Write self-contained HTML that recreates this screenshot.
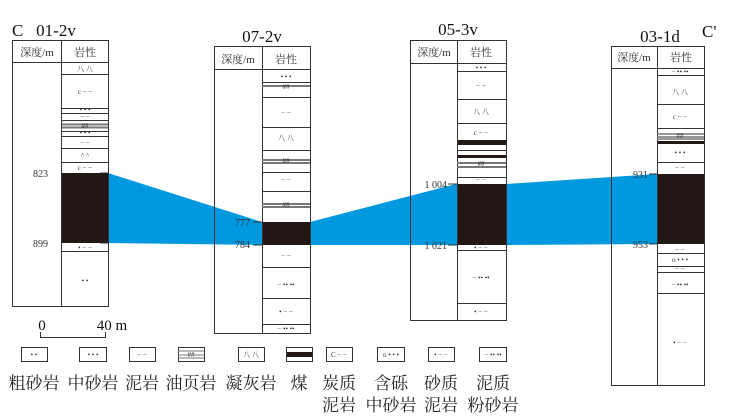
<!DOCTYPE html>
<html><head><meta charset="utf-8"><style>
html,body{margin:0;padding:0;background:#fff;width:730px;height:419px;overflow:hidden}
svg text{font-family:"Liberation Serif","Noto Serif CJK SC",serif}
.s{font-size:7px;fill:#333;text-anchor:middle;font-family:"Liberation Sans",sans-serif}
.h{font-size:11px;fill:#333;text-anchor:middle;font-family:"Liberation Serif","Noto Serif CJK SC",serif}
.d{font-size:10px;fill:#333;text-anchor:end}
.t{font-size:17px;fill:#111;text-anchor:middle}
.lg{font-size:17px;fill:#222;text-anchor:middle;font-family:"Noto Serif CJK SC",serif}
</style></head><body>
<svg width="730" height="419" viewBox="0 0 730 419" xmlns="http://www.w3.org/2000/svg">
<polygon fill="#0099e0" points="108,173 262,222 310,222 456,184 506,184 657,174 657,244 506,245 456,245 310,245 262,245 108,243"/>
<g fill="#fff"><rect x="62" y="63" width="46" height="110"/><rect x="62" y="243" width="46" height="63"/>
<rect x="262" y="69" width="48" height="153"/><rect x="262" y="245" width="48" height="88"/>
<rect x="457" y="63" width="49" height="121"/><rect x="457" y="245" width="49" height="75"/>
<rect x="657" y="68" width="47" height="106"/><rect x="657" y="244" width="47" height="141"/></g>
<g fill="#231815"><rect x="62" y="173" width="46" height="70"/><rect x="262" y="222" width="48" height="23"/>
<rect x="457" y="184" width="49" height="61"/><rect x="457" y="140" width="49" height="5"/><rect x="457" y="155" width="49" height="3"/>
<rect x="657" y="174" width="47" height="70"/><rect x="657" y="141" width="47" height="3"/></g>
<g stroke="#333" stroke-width="1" fill="none">
<rect x="12.5" y="40.5" width="96" height="266"/><line x1="61.5" y1="40" x2="61.5" y2="306"/><line x1="12" y1="62.5" x2="108" y2="62.5"/>
<path d="M62 74.5H108M62 108.5H108M62 113.5H108M62 120.5H108M62 131.5H108M62 136.5H108M62 148.5H108M62 162.5H108M62 251.5H108"/>
<path d="M62 124.5H108M62 127.5H108" stroke="#777" stroke-width="2"/>
<rect x="214.5" y="46.5" width="96" height="287"/><line x1="262.5" y1="46" x2="262.5" y2="333"/><line x1="214" y1="69.5" x2="310" y2="69.5"/>
<path d="M262 82.5H310M262 97.5H310M262 127.5H310M262 150.5H310M262 172.5H310M262 191.5H310M262 267.5H310M262 298.5H310M262 324.5H310"/>
<path d="M262 86H310M262 160H310M262 163H310M262 204H310M262 207H310" stroke="#777" stroke-width="2"/>
<rect x="410.5" y="40.5" width="96" height="280"/><line x1="457.5" y1="40" x2="457.5" y2="320"/><line x1="410" y1="63.5" x2="506" y2="63.5"/>
<path d="M457 71.5H506M457 99.5H506M457 123.5H506M457 150.5H506M457 177.5H506M457 250.5H506M457 303.5H506"/>
<path d="M457 163H506M457 167H506" stroke="#777" stroke-width="2"/>
<rect x="611.5" y="46.5" width="93" height="339"/><line x1="657.5" y1="46" x2="657.5" y2="385"/><line x1="611" y1="68.5" x2="704" y2="68.5"/>
<path d="M657 75.5H704M657 104.5H704M657 128.5H704M657 162.5H704M657 253.5H704M657 266.5H704M657 272.5H704M657 293.5H704"/>
<path d="M657 134H704M657 137H704M657 139H704" stroke="#777" stroke-width="1.5"/>
<path d="M100 173H108M100 243H108M253 222H262M253 245H262M448 184H457M448 245H457M649 174H657M649 244H657"/>
<path d="M40.5 332V337.5H105.5V332"/>
<rect x="21.5" y="347.5" width="26" height="14"/><rect x="79.5" y="347.5" width="27" height="14"/><rect x="129.5" y="347.5" width="26" height="14"/>
<rect x="178.5" y="347.5" width="26" height="14"/><rect x="238.5" y="347.5" width="26" height="14"/><rect x="286.5" y="347.5" width="26" height="14"/>
<rect x="326.5" y="347.5" width="26" height="14"/><rect x="377.5" y="347.5" width="27" height="14"/><rect x="428.5" y="347.5" width="26" height="14"/><rect x="479.5" y="347.5" width="27" height="14"/>
<path d="M178 351H204M178 355H204M178 358H204" stroke="#777"/>
</g>
<rect x="287" y="352" width="25" height="5" fill="#231815"/>
<g class="s">
<text x="85" y="71">八 八</text><text x="85" y="94">c − −</text><text x="85" y="112">• • •</text><text x="85" y="119">− −</text><text x="85" y="128">##</text><text x="85" y="135">• • •</text><text x="85" y="145">− −</text><text x="85" y="158">^ ^</text><text x="85" y="170">c − −</text><text x="85" y="250">• − −</text><text x="85" y="283">•   •</text>
<text x="286" y="79">• • •</text><text x="286" y="89">##</text><text x="286" y="115">− −</text><text x="286" y="140">八 八</text><text x="286" y="163">##</text><text x="286" y="182">− −</text><text x="286" y="207">##</text><text x="286" y="258">− −</text><text x="286" y="287">− •• ••</text><text x="286" y="314">• − −</text><text x="286" y="331">− •• ••</text>
<text x="481" y="70">• • •</text><text x="481" y="88">− −</text><text x="481" y="114">八 八</text><text x="481" y="135">c − −</text><text x="481" y="153">− −</text><text x="481" y="166">##</text><text x="481" y="182">− −</text><text x="481" y="250">• − −</text><text x="481" y="280">− •• ••</text><text x="481" y="314">• − −</text>
<text x="680" y="74">− •• ••</text><text x="680" y="94">八 八</text><text x="680" y="119">c − −</text><text x="680" y="138">##</text><text x="680" y="155">• • •</text><text x="680" y="170">− −</text><text x="680" y="252">− −</text><text x="680" y="262">o • • •</text><text x="680" y="271">− −</text><text x="680" y="287">− •• ••</text><text x="680" y="345">• − −</text>
<text x="34" y="357">•   •</text><text x="93" y="357">• • •</text><text x="142" y="357">− −</text><text x="191" y="357">##</text><text x="251" y="357">八 八</text><text x="339" y="357">C − −</text><text x="391" y="357">o • • •</text><text x="441" y="357">• − −</text><text x="493" y="357">− •• ••</text>
</g>
<g class="h"><text x="37" y="56">深度/m</text><text x="85" y="56">岩性</text><text x="238" y="63">深度/m</text><text x="286" y="63">岩性</text>
<text x="434" y="56">深度/m</text><text x="481" y="56">岩性</text><text x="634" y="61">深度/m</text><text x="681" y="61">岩性</text></g>
<g class="d"><text x="48" y="177">823</text><text x="48" y="247">899</text><text x="250" y="226">777</text><text x="250" y="248">784</text>
<text x="447" y="188">1 004</text><text x="447" y="249">1 021</text><text x="648" y="178">931</text><text x="648" y="248">953</text></g>
<text x="12" y="36" style="font-size:17px;fill:#111">C</text><text x="56" y="36" class="t">01-2v</text>
<text x="262" y="42" class="t">07-2v</text><text x="458" y="35" class="t">05-3v</text><text x="660" y="42" class="t">03-1d</text>
<text x="702" y="37" style="font-size:17px;fill:#111">C'</text>
<text x="42" y="330" class="t" style="font-size:15px">0</text><text x="112" y="330" class="t" style="font-size:15px">40 m</text>
<g class="lg"><text x="34" y="389">粗砂岩</text><text x="93" y="389">中砂岩</text><text x="142" y="389">泥岩</text><text x="191" y="389">油页岩</text><text x="251" y="389">凝灰岩</text><text x="299" y="389">煤</text>
<text x="339" y="389">炭质</text><text x="339" y="411">泥岩</text><text x="391" y="389">含砾</text><text x="391" y="411">中砂岩</text><text x="441" y="389">砂质</text><text x="441" y="411">泥岩</text><text x="493" y="389">泥质</text><text x="493" y="411">粉砂岩</text></g>
</svg>
</body></html>
